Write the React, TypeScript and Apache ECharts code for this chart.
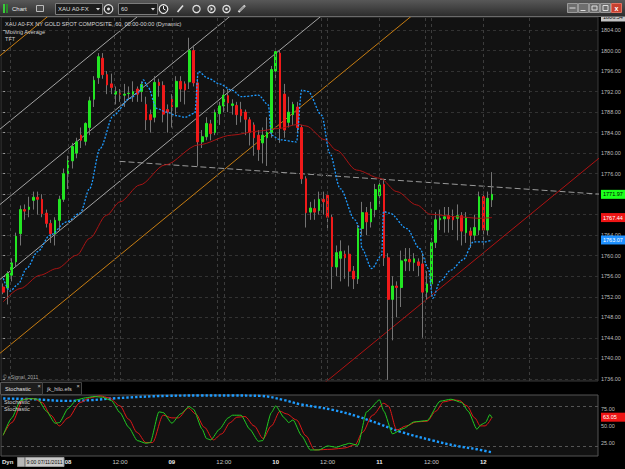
import React, { useEffect, useRef } from "react";
import * as echarts from "echarts";

// ---------- data ----------
const opens = [1753.9,1753.7,1756.2,1758.8,1764.3,1769.0,1769.0,1770.8,1771.4,1771.0,1768.3,1766.3,1764.3,1766.9,1771.0,1776.0,1778.5,1780.0,1783.5,1782.3,1785.0,1790.5,1794.7,1798.5,1795.3,1793.5,1791.5,1791.6,1791.3,1791.6,1791.5,1792.5,1792.0,1789.5,1787.5,1787.0,1793.8,1793.2,1788.5,1790.5,1789.0,1794.0,1793.5,1793.9,1800.0,1793.7,1782.2,1783.2,1785.7,1784.0,1787.7,1789.2,1791.2,1789.3,1789.3,1788.5,1788.0,1786.5,1785.5,1783.5,1782.0,1783.0,1784.0,1796.0,1799.5,1791.5,1786.0,1787.5,1789.0,1785.0,1775.0,1768.5,1769.2,1768.8,1771.0,1771.8,1767.5,1757.8,1759.5,1760.3,1760.3,1757.0,1755.5,1765.3,1768.4,1766.6,1769.0,1771.7,1773.9,1759.6,1751.5,1754.1,1753.8,1759.0,1759.3,1758.7,1758.8,1758.4,1752.9,1754.5,1762.6,1767.0,1767.2,1767.8,1767.6,1767.3,1767.8,1764.5,1764.8,1764.0,1765.0,1771.5,1765.0,1770.9];
const closes = [1752.9,1756.5,1758.6,1763.8,1769.0,1768.7,1769.5,1771.4,1771.0,1768.2,1766.3,1764.3,1766.9,1771.0,1776.0,1778.5,1781.3,1782.2,1782.5,1785.8,1790.2,1794.2,1798.8,1795.3,1793.3,1792.8,1792.0,1791.5,1791.5,1791.7,1792.0,1791.5,1793.4,1786.5,1786.5,1793.8,1793.2,1787.6,1788.0,1789.0,1794.0,1792.5,1792.3,1800.0,1793.7,1782.2,1783.2,1785.8,1783.8,1787.9,1789.2,1791.3,1789.8,1789.6,1787.5,1787.3,1786.6,1784.0,1783.0,1780.7,1783.5,1784.0,1796.3,1799.8,1784.8,1784.5,1788.0,1789.5,1785.0,1775.0,1768.4,1769.3,1768.5,1771.0,1770.5,1767.5,1757.9,1760.6,1760.8,1759.6,1757.0,1755.5,1765.3,1768.4,1766.6,1769.1,1772.9,1773.8,1759.6,1751.5,1754.1,1753.8,1759.0,1759.3,1758.8,1759.4,1758.1,1752.9,1754.5,1762.6,1767.0,1767.3,1767.6,1767.2,1767.0,1767.8,1764.8,1767.5,1764.0,1765.5,1771.5,1765.0,1771.2,1771.97];
const lows = [1752.5,1750.5,1755.0,1758.0,1762.0,1767.0,1767.5,1769.0,1768.0,1767.5,1765.5,1762.5,1762.0,1765.0,1770.5,1773.0,1777.0,1779.0,1781.0,1781.5,1783.5,1789.0,1793.5,1794.5,1791.5,1791.5,1789.5,1790.0,1789.0,1790.5,1790.0,1790.0,1790.0,1784.5,1784.0,1786.0,1791.0,1786.0,1784.0,1785.0,1787.5,1790.0,1789.5,1792.5,1793.0,1777.5,1781.0,1782.5,1782.5,1783.5,1785.5,1788.0,1788.0,1787.5,1785.5,1786.0,1783.5,1781.5,1779.5,1778.5,1778.0,1777.5,1783.0,1794.5,1782.0,1783.0,1785.0,1785.5,1784.0,1774.0,1765.5,1767.0,1767.0,1768.0,1768.0,1765.0,1753.5,1756.0,1755.0,1755.5,1754.0,1753.5,1754.5,1764.0,1764.0,1765.5,1767.5,1770.0,1758.0,1735.8,1743.5,1748.0,1750.0,1757.0,1757.0,1757.0,1756.0,1744.0,1751.5,1752.0,1761.5,1765.0,1764.5,1764.5,1765.0,1763.0,1762.0,1762.5,1761.5,1763.0,1764.0,1762.0,1764.0,1769.5];
const highs = [1754.6,1757.0,1759.5,1764.5,1769.8,1770.0,1771.5,1772.5,1772.5,1772.0,1769.0,1767.0,1767.5,1771.7,1777.0,1779.5,1782.0,1783.0,1785.0,1786.0,1791.0,1795.0,1799.5,1799.5,1796.0,1795.5,1793.0,1792.5,1793.5,1793.0,1794.0,1793.0,1794.0,1791.0,1788.5,1795.0,1794.5,1794.0,1789.5,1791.5,1795.0,1795.0,1794.0,1802.5,1801.0,1794.5,1784.5,1787.0,1786.5,1788.5,1790.0,1792.5,1792.5,1790.5,1790.0,1790.0,1788.5,1787.0,1786.0,1784.5,1785.0,1787.0,1797.0,1800.5,1800.0,1793.5,1791.0,1790.0,1790.0,1785.5,1775.5,1770.5,1771.0,1772.5,1772.5,1772.5,1768.0,1762.0,1763.0,1761.0,1762.0,1758.0,1766.0,1770.5,1769.5,1770.5,1774.0,1774.5,1775.0,1760.5,1756.0,1755.0,1761.0,1761.5,1761.5,1760.5,1759.5,1760.5,1757.0,1763.5,1768.5,1769.0,1769.5,1769.5,1769.0,1770.0,1768.5,1768.5,1765.5,1768.0,1772.5,1772.5,1772.5,1776.3];

// moving averages [bar, price]
const fastMA = [[0,1755.6],[1.6,1753.1],[3.5,1754.5],[5.4,1757.5],[8,1760.8],[10.8,1764],[14.7,1766.6],[17.8,1768.3],[20,1773.1],[22.4,1780.9],[25.5,1787.4],[29.3,1790.7],[31.6,1792],[32.4,1794.3],[33.4,1793],[35.5,1788.7],[37.8,1788],[40,1787.3],[42,1787],[44.3,1787.8],[45.1,1795.9],[47.4,1794.6],[50,1793.5],[52.8,1792.3],[55.1,1791],[59,1791.3],[61.3,1789.4],[62,1783.5],[64,1782.6],[67.8,1782.2],[69,1792.3],[70.5,1792],[73.6,1787.4],[75.5,1780],[77.9,1773.1],[81.3,1767],[82.5,1765.3],[82.9,1761.4],[85.2,1757.5],[87.5,1760.1],[87.9,1768.6],[89.4,1768.3],[93.3,1765.3],[96.3,1761.4],[98.3,1757.5],[99.3,1751.7],[101,1755],[103.5,1757.2],[106.3,1759.2],[108.7,1762.7],[111.3,1762.7],[113,1763.07]];
const slowMA = [[0,1751],[3.9,1753.6],[8.5,1756.2],[12.4,1757.5],[17,1760.1],[20,1763.4],[23.9,1767.9],[27,1770.5],[31.6,1773.8],[37.4,1777.7],[45.1,1781.6],[52.8,1783.5],[59,1784.3],[63.6,1784.8],[68.2,1785.6],[70,1785.3],[74.4,1782.6],[77,1780.6],[81.7,1776.7],[87.1,1775.1],[91,1772.5],[95.6,1769.9],[98.7,1768.1],[104.8,1767.6],[110.2,1767.3],[113,1767.44]];

// stochastic pane [bar, value]
const stochK = [[0,36],[2,62],[4,88],[6,91],[8,90],[10,72],[12,54],[13,55],[15,76],[17,89],[19,92],[21,94],[23,93],[25,88],[27,70],[29,48],[31,28],[33,24],[34,25],[36,71],[37,70],[39,54],[41,68],[43,79],[44,75],[46,45],[47,31],[48,29],[50,45],[52,62],[53,66],[55,66],[57,45],[59,27],[60,28],[62,70],[63,80],[65,62],[66,55],[67,59],[69,35],[71,14],[73,14],[75,20],[77,18],[79,22],[80,24],[82,21],[84,71],[87,89],[88,72],[90,38],[92.5,46],[95,56],[98,58],[101,87],[103.5,90],[106,85],[107.5,72],[109.5,45],[110.5,52],[111.5,55],[112.5,67],[113,62]];
const stochD = [[0,36],[2,55],[4.7,90],[7,91],[9,85],[11,66],[13,50],[15,62],[17.8,85],[20,92],[22.4,95],[24.5,92],[27,80],[29,60],[31,40],[33,25],[34.5,25],[37,66],[39,62],[40.5,62],[42.8,77],[44.5,68],[46.5,48],[48.6,29],[50.5,38],[52.5,55],[54,63],[55.9,64],[58,50],[60.1,31],[62,50],[64,72],[65.5,68],[67.8,59],[70,35],[72,14],[76,15],[79,17],[81.4,22],[83,40],[85.4,66],[88,84],[89,80],[91,44],[93.2,50],[95.5,56],[98,57],[100,72],[101.8,86],[104.1,89],[105.5,88],[107.2,80],[109,62],[110.3,50],[111.4,50],[113,63.05]];
const hiloLine = [[0,91],[7,90],[14.7,87.5],[20,88.5],[26.2,91.5],[37.8,95],[45.5,95.5],[53.2,95.5],[59.4,95],[64.7,89],[68.6,82.5],[76.2,74],[82,64],[87.1,52.5],[91.7,41.5],[99.4,28],[104.8,20],[109.5,15],[113.2,10]];

// axes
const slotCount = 138;
const tickBars = [15, 27, 39, 51, 63, 75, 87, 99, 111];
const tickLabels = ["08", "12:00", "09", "12:00", "10", "12:00", "11", "12:00", "12"];
const sessionBars = [1.6, 25.6, 49.6, 73.6, 97.6, 121.6];
const priceTicks = [1736,1740,1744,1748,1752,1756,1760,1764,1768,1772,1776,1780,1784,1788,1792,1796,1800,1804];
const hiddenPriceLabels = [1768, 1772]; // covered by the value tags in the reference
const priceTop = 1806.54;
const priceBottom = 1735.58;
const lastClose = 1771.97;
const lastSlow = 1767.44;
const lastFast = 1763.07;
const stochTicks = [25, 50, 75];
const stochLevels = [20, 80];
const stochLast = 63.05;

// drawn trend lines [bar, price]
const grayChannel = [
  [[-1, 1784.5], [40, 1812.8]],
  [[-1, 1769.8], [60, 1811.9]],
  [[-1, 1755.2], [80, 1811.2]],
];
const orangeLines = [
  [[-1, 1798.8], [15, 1809.9]],
  [[-1, 1740.8], [100, 1810.6]],
];
const redLine = [[74, 1735], [138, 1779.2]];
const flatLine = [[26.9, 1778.4], [138, 1772.0]];

const FONT = "Liberation Sans";

function buildOption() {
  const cats = Array.from({ length: slotCount }, (_, i) => String(i));
  const ohlc = opens.map((o, i) => [o, closes[i], lows[i], highs[i]]);
  const bodies = opens.map((o, i) => [o, closes[i], Math.min(o, closes[i]), Math.max(o, closes[i])]);

  const drawLine = (pts: number[][], color: string, type: any, z = 2) => ({
    type: "line",
    xAxisIndex: 1,
    yAxisIndex: 0,
    data: pts,
    symbol: "none",
    clip: true,
    silent: true,
    z,
    lineStyle: { color, width: 1, type },
  });

  const T = (x: number, y: number, text: string, o: any = {}) => ({
    type: "text",
    x,
    y,
    z: 100,
    silent: true,
    style: {
      text,
      fill: o.fill || "#d4d4d4",
      fontSize: o.size || 5.6,
      fontFamily: FONT,
      fontWeight: o.weight || "normal",
      verticalAlign: "middle",
      align: o.align || "left",
    },
  });
  const R = (x: number, y: number, w: number, h: number, fill: any, stroke?: string) => ({
    type: "rect",
    z: 100,
    silent: true,
    shape: { x, y, width: w, height: h },
    style: { fill, stroke: stroke || null, lineWidth: 1 },
  });

  const graphic: any[] = [
    R(0, 0, 625, 17, new echarts.graphic.LinearGradient(0, 0, 0, 1, [
      { offset: 0, color: "#585858" },
      { offset: 1, color: "#2a2a2a" },
    ])),
    R(3, 4, 2, 9, "#3acb3a"),
    R(6, 4, 2, 9, "#2a8a2a"),
    T(12, 8.5, "Chart", { size: 6, fill: "#e8e8e8" }),
    R(36.5, 5.5, 7, 6, "#4a4a4a", "#bbbbbb"),
    R(55.5, 3.5, 47, 11, "#1c1c1c", "#7c7c7c"),
    T(58, 9, "XAU A0-FX", { size: 6, fill: "#dddddd" }),
    { type: "polygon", z: 100, silent: true, shape: { points: [[96, 8], [100, 8], [98, 10.5]] }, style: { fill: "#dddddd" } },
    { type: "circle", z: 100, silent: true, shape: { cx: 108.5, cy: 9, r: 4.3 }, style: { fill: "#2a2a2a", stroke: "#e0e0e0", lineWidth: 1.2 } },
    { type: "circle", z: 100, silent: true, shape: { cx: 108.5, cy: 9, r: 1.5 }, style: { fill: "#e0e0e0" } },
    R(118.5, 3.5, 39, 11, "#1c1c1c", "#7c7c7c"),
    T(121, 9, "60", { size: 6, fill: "#dddddd" }),
    { type: "polygon", z: 100, silent: true, shape: { points: [[151, 8], [155, 8], [153, 10.5]] }, style: { fill: "#dddddd" } },
    { type: "circle", z: 100, silent: true, shape: { cx: 163.5, cy: 9, r: 4.3 }, style: { fill: "#2a2a2a", stroke: "#eeeeee", lineWidth: 1.2 } },
    { type: "polyline", z: 100, silent: true, shape: { points: [[163.5, 6], [163.5, 9], [165.5, 10]] }, style: { stroke: "#eeeeee", lineWidth: 1 } },
    { type: "line", z: 100, silent: true, shape: { x1: 177.5, y1: 12, x2: 183, y2: 5.5 }, style: { stroke: "#e0e0e0", lineWidth: 1.6 } },
    { type: "circle", z: 100, silent: true, shape: { cx: 196.5, cy: 9, r: 3.6 }, style: { fill: "none", stroke: "#e0e0e0", lineWidth: 1.2 } },
    { type: "circle", z: 100, silent: true, shape: { cx: 211.5, cy: 9, r: 3.6 }, style: { fill: "none", stroke: "#e0e0e0", lineWidth: 1.2 } },
    { type: "polygon", z: 100, silent: true, shape: { points: [[210.5, 7], [213, 9], [210.5, 11]] }, style: { fill: "#e0e0e0" } },
    { type: "circle", z: 100, silent: true, shape: { cx: 226.5, cy: 9, r: 3.6 }, style: { fill: "none", stroke: "#e0e0e0", lineWidth: 1.2 } },
    { type: "circle", z: 100, silent: true, shape: { cx: 226.5, cy: 9, r: 1.3 }, style: { fill: "#e0e0e0" } },
    { type: "line", z: 100, silent: true, shape: { x1: 238.5, y1: 12, x2: 245, y2: 5.5 }, style: { stroke: "#e0e0e0", lineWidth: 2.2 } },
    { type: "line", z: 100, silent: true, shape: { x1: 239.5, y1: 11, x2: 244, y2: 6.5 }, style: { stroke: "#333333", lineWidth: 0.8 } },
    ...[0, 1, 2, 3, 4].map((i) =>
      R(567.5 + i * 11, 3.5, 10, 9, i === 4 ? "#c8402f" : "#6e6e6e", i === 4 ? "#e07060" : "#9a9a9a")
    ),
    { type: "line", z: 100, silent: true, shape: { x1: 569.5, y1: 8, x2: 575.5, y2: 8 }, style: { stroke: "#dddddd", lineWidth: 1 } },
    { type: "line", z: 100, silent: true, shape: { x1: 580.5, y1: 10.5, x2: 585.5, y2: 10.5 }, style: { stroke: "#dddddd", lineWidth: 1 } },
    R(592, 6, 5, 4, "none", "#dddddd"),
    R(603, 5.5, 5, 5, "none", "#dddddd"),
    T(616.5, 8, "x", { size: 7, fill: "#ffffff", weight: "bold", align: "center" }),
    { type: "line", z: 100, silent: true, shape: { x1: 0, y1: 16.5, x2: 625, y2: 16.5 }, style: { stroke: "#6a6a6a", lineWidth: 1 } },

    // pane texts
    T(5, 24, "XAU A0-FX NY GOLD SPOT COMPOSITE, 60, 00:00-00:00 (Dynamic)", { fill: "#d8d8d8" }),
    T(5, 31.5, "Moving Average", { fill: "#d0d0d0" }),
    T(5, 39, "TFT", { fill: "#d0d0d0" }),
    T(3, 377, "\u00a9 eSignal, 2011", { size: 5, fill: "#a8a8a8" }),

    // tabs
    R(0.5, 382.5, 42, 12, "#1d1d1d", "#555555"),
    T(5, 389, "Stochastic", { fill: "#e0e0e0" }),
    T(39, 386, "\u00d7", { size: 5.5, fill: "#cccccc", align: "center" }),
    R(42.5, 382.5, 39, 12, "#0c0c0c", "#444444"),
    T(47, 389, "jk_hilo.efs", { fill: "#cfcfcf" }),
    T(78, 386, "\u00d7", { size: 5.5, fill: "#cccccc", align: "center" }),
    T(4, 401.5, "Stochastic", { fill: "#cfcfcf" }),
    T(4, 408.5, "Stochastic", { fill: "#cfcfcf" }),

    // bottom bar
    T(2, 462, "Dyn", { size: 6, fill: "#e0e0e0", weight: "bold" }),
    R(17.5, 457.5, 7, 9, "#b8b8b8", "#8a8a8a"),
    R(25.5, 457.5, 38.5, 9, "#c9c9c9", "#9a9a9a"),
    T(26.5, 462, "9:00 07/11/2011", { size: 5.1, fill: "#111111" }),
  ];

  const priceLabel = (v: number) => {
    const s = v.toFixed(2);
    if (v === priceTop) return `{t|${s}}`;
    if (v === lastClose) return `{g|${s}}`;
    if (v === lastSlow) return `{r|${s}}`;
    if (v === lastFast) return `{b|${s}}`;
    return s;
  };
  const tag = (bg: string, fg: string) => ({
    backgroundColor: bg,
    color: fg,
    fontSize: 5.5,
    fontFamily: FONT,
    padding: [1.5, 3, 1.5, 2],
  });
  const shownPriceLabels = priceTicks.filter((p) => hiddenPriceLabels.indexOf(p) < 0);

  return {
    animation: false,
    backgroundColor: "#000000",
    textStyle: { fontFamily: FONT },
    grid: [
      { left: 1, top: 17, width: 597, height: 364, show: true, backgroundColor: "#121212", borderColor: "#3a3a3a", borderWidth: 1, outerBoundsMode: "none", containLabel: false },
      { left: 1, top: 395, width: 597, height: 61, show: true, backgroundColor: "#121212", borderColor: "#555555", borderWidth: 1, outerBoundsMode: "none", containLabel: false },
    ],
    xAxis: [
      { type: "category", gridIndex: 0, data: cats, boundaryGap: true, axisLine: { show: false }, axisTick: { show: false }, axisLabel: { show: false }, splitLine: { show: false } },
      { type: "value", gridIndex: 0, min: -0.5, max: slotCount - 0.5, show: false },
      {
        type: "value",
        gridIndex: 1,
        min: -0.5,
        max: slotCount - 0.5,
        axisLine: { show: false },
        axisTick: { show: false },
        splitLine: { show: false },
        axisLabel: {
          customValues: tickBars,
          margin: 3,
          fontSize: 6,
          color: "#c8c8c8",
          fontFamily: FONT,
          formatter: (v: number) => {
            const k = tickBars.indexOf(Math.round(v));
            if (k < 0) return "";
            const t = tickLabels[k];
            return t.indexOf(":") >= 0 ? t : `{d|${t}}`;
          },
          rich: { d: { fontSize: 6, fontWeight: "bold", color: "#ececec", fontFamily: FONT } },
        },
      },
    ],
    yAxis: [
      {
        type: "value",
        gridIndex: 0,
        position: "right",
        min: priceBottom,
        max: priceTop,
        axisLine: { show: false },
        axisTick: { show: true, length: 2, customValues: priceTicks, lineStyle: { color: "#9a9a9a" } },
        splitLine: { show: true, lineStyle: { color: "#323232", type: [3, 3], width: 1 } },
        axisLabel: {
          customValues: [...shownPriceLabels, priceTop, lastFast, lastSlow, lastClose],
          margin: 3,
          fontSize: 5.5,
          color: "#bdbdbd",
          fontFamily: FONT,
          formatter: priceLabel,
          rich: {
            t: tag("#c4c4c4", "#111111"),
            g: tag("#1cff1c", "#000000"),
            r: tag("#ee1414", "#ffffff"),
            b: tag("#1e90ff", "#ffffff"),
          },
        },
      },
      {
        type: "value",
        gridIndex: 1,
        position: "right",
        min: 4.9,
        max: 96.3,
        axisLine: { show: false },
        axisTick: { show: false, customValues: stochLevels },
        splitLine: { show: true, lineStyle: { color: "#555555", type: [3, 3], width: 1 } },
        axisLabel: {
          customValues: [...stochTicks, stochLast],
          margin: 3,
          fontSize: 5.5,
          color: "#bdbdbd",
          fontFamily: FONT,
          formatter: (v: number) => (v === stochLast ? `{r|${v.toFixed(2)}}` : v.toFixed(2)),
          rich: { r: { ...tag("#ee1414", "#ffffff"), padding: [1.5, 10, 1.5, 2] } },
        },
      },
    ],
    series: [
      {
        type: "line",
        xAxisIndex: 1,
        yAxisIndex: 0,
        data: [],
        silent: true,
        z: 1,
        markLine: {
          silent: true,
          symbol: "none",
          label: { show: false },
          lineStyle: { color: "#3c3c3c", type: [3, 3], width: 1 },
          data: [...tickBars, ...sessionBars].map((b) => ({ xAxis: b })),
        },
      },
      ...grayChannel.map((l) => drawLine(l, "#a4a4a4", "solid")),
      ...orangeLines.map((l) => drawLine(l, "#c77d12", "solid")),
      drawLine(redLine, "#b01212", "solid"),
      drawLine(flatLine, "#9a9a9a", [6, 3]),
      {
        type: "candlestick",
        name: "wick",
        xAxisIndex: 0,
        yAxisIndex: 0,
        data: ohlc,
        barWidth: 1,
        silent: true,
        z: 3,
        itemStyle: { color: "#747474", color0: "#747474", borderColor: "#747474", borderColor0: "#747474", borderWidth: 1 },
      },
      {
        type: "candlestick",
        name: "body",
        xAxisIndex: 0,
        yAxisIndex: 0,
        data: bodies,
        barWidth: 2.2,
        silent: true,
        z: 4,
        itemStyle: { color: "#22e622", color0: "#f01a1a", borderColor: "#22e622", borderColor0: "#f01a1a", borderWidth: 1 },
      },
      {
        type: "line",
        xAxisIndex: 1,
        yAxisIndex: 0,
        data: slowMA,
        symbol: "none",
        smooth: 0.3,
        smoothMonotone: "x",
        silent: true,
        z: 5,
        lineStyle: { color: "#a81414", width: 1 },
      },
      {
        type: "line",
        xAxisIndex: 1,
        yAxisIndex: 0,
        data: fastMA,
        symbol: "none",
        smooth: 0.3,
        smoothMonotone: "x",
        silent: true,
        z: 6,
        lineStyle: { color: "#1f9bff", width: 1.3, type: [2, 1.5] },
      },
      {
        type: "line",
        xAxisIndex: 2,
        yAxisIndex: 1,
        data: hiloLine,
        symbol: "none",
        smooth: 0.4,
        silent: true,
        z: 3,
        lineStyle: { color: "#1e9cff", width: 2.4, type: [2.4, 2] },
      },
      {
        type: "line",
        xAxisIndex: 2,
        yAxisIndex: 1,
        data: stochD,
        symbol: "none",
        smooth: 0.3,
        smoothMonotone: "x",
        silent: true,
        z: 4,
        lineStyle: { color: "#e01818", width: 1 },
      },
      {
        type: "line",
        xAxisIndex: 2,
        yAxisIndex: 1,
        data: stochK,
        symbol: "none",
        smooth: 0.2,
        smoothMonotone: "x",
        silent: true,
        z: 5,
        lineStyle: { color: "#22cc22", width: 1 },
      },
    ],
    graphic,
  };
}

export default function App() {
  const ref = useRef<HTMLDivElement>(null);
  useEffect(() => {
    if (!ref.current) return;
    const chart = echarts.init(ref.current, null, { renderer: "svg" });
    chart.setOption(buildOption() as any);
    return () => chart.dispose();
  }, []);
  return (
    <div
      ref={ref}
      style={{ position: "fixed", left: 0, top: 0, width: 625, height: 469, background: "#000" }}
    />
  );
}
